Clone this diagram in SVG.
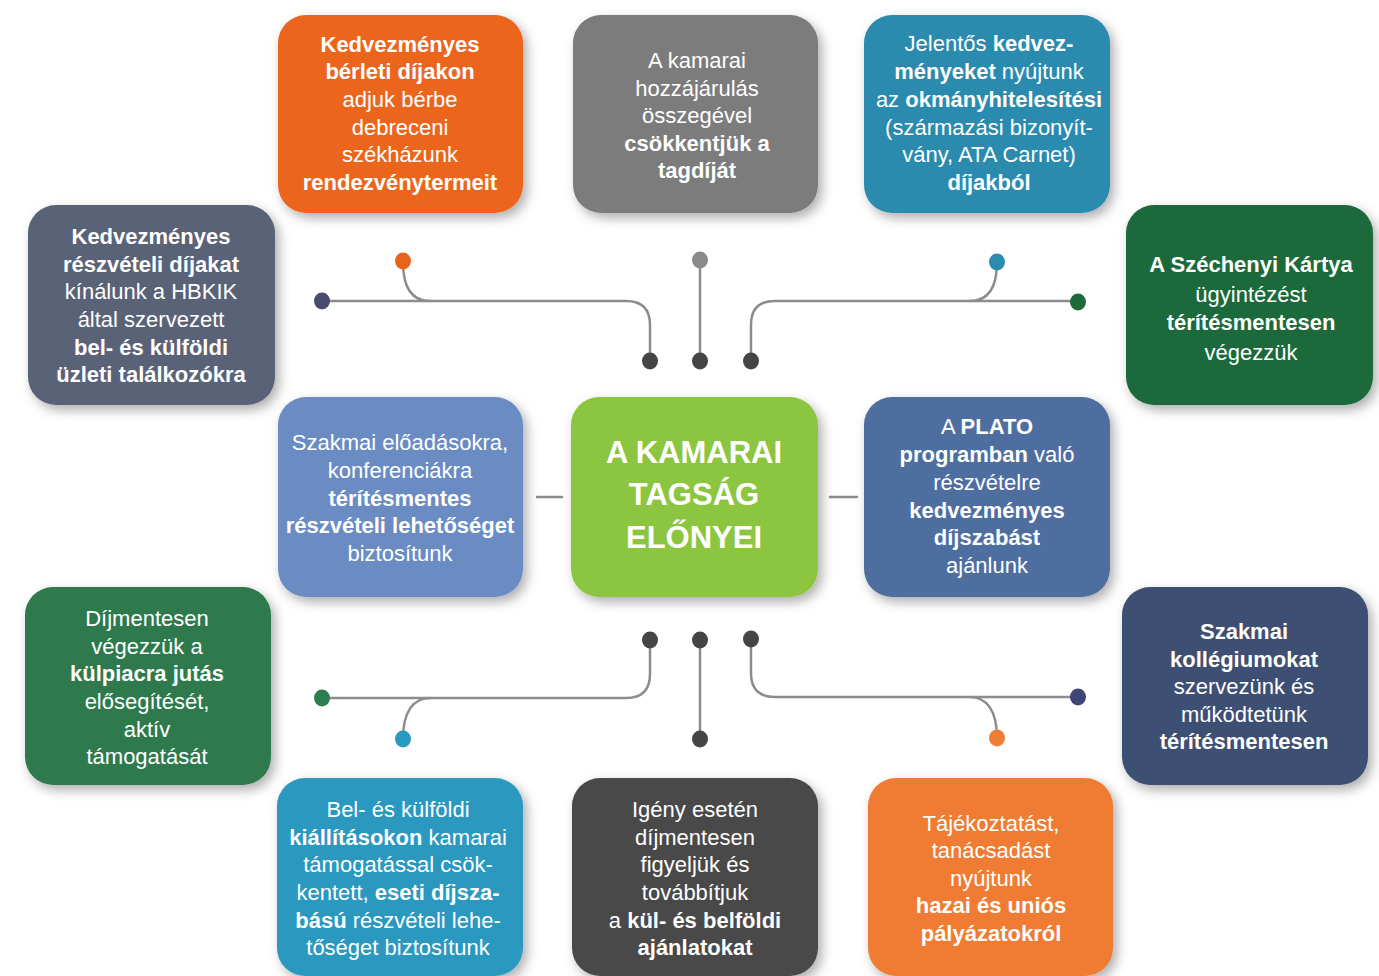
<svg xmlns="http://www.w3.org/2000/svg" width="1379" height="976" viewBox="0 0 1379 976">
<defs>
<filter id="sh" x="-20%" y="-20%" width="140%" height="140%">
<feDropShadow dx="4" dy="5" stdDeviation="6" flood-color="#000" flood-opacity="0.32"/>
</filter>
<style>
.box{filter:url(#sh)}
.t{font-family:"Liberation Sans",Arial,sans-serif;font-size:22px;fill:#fff;text-anchor:middle}
.b{font-weight:bold}
.c{font-family:"Liberation Sans",Arial,sans-serif;font-size:31px;font-weight:bold;fill:#fff;text-anchor:middle}
.ln{fill:none;stroke:#8c8c8c;stroke-width:2.5;stroke-linecap:round}
</style>
</defs>
<rect width="1379" height="976" fill="#fff"/>

<g id="connectors">
<path class="ln" d="M322,301 H626 Q650,301 650,325 V361"/>
<path class="ln" d="M403,262 C403,290 413,301 430,301"/>
<path class="ln" d="M700,260 V361"/>
<path class="ln" d="M751,361 V325 Q751,301 775,301 H1078"/>
<path class="ln" d="M997,262 C997,290 987,301 970,301"/>
<path class="ln" d="M650,640 V674 Q650,698 626,698 H322"/>
<path class="ln" d="M403,739 C403,712 413,698 430,698"/>
<path class="ln" d="M700,640 V739"/>
<path class="ln" d="M751,640 V673 Q751,697 775,697 H1078"/>
<path class="ln" d="M997,738 C997,711 987,697 970,697"/>
<path class="ln" d="M537,497 H562" stroke="#aaa"/>
<path class="ln" d="M830,497 H857" stroke="#aaa"/>
<ellipse cx="403" cy="261" rx="8" ry="8.5" fill="#E8641C"/>
<ellipse cx="322" cy="301" rx="8" ry="8.5" fill="#4A4B6E"/>
<ellipse cx="700" cy="260" rx="8" ry="8.5" fill="#8A8A8A"/>
<ellipse cx="997" cy="262" rx="8" ry="8.5" fill="#2A8DB0"/>
<ellipse cx="1078" cy="302" rx="8" ry="8.5" fill="#1E6B3A"/>
<ellipse cx="650" cy="361" rx="8" ry="8.5" fill="#454545"/>
<ellipse cx="700" cy="361" rx="8" ry="8.5" fill="#454545"/>
<ellipse cx="751" cy="361" rx="8" ry="8.5" fill="#454545"/>
<ellipse cx="650" cy="640" rx="8" ry="8.5" fill="#454545"/>
<ellipse cx="700" cy="640" rx="8" ry="8.5" fill="#454545"/>
<ellipse cx="751" cy="639" rx="8" ry="8.5" fill="#454545"/>
<ellipse cx="700" cy="739" rx="8" ry="8.5" fill="#454545"/>
<ellipse cx="322" cy="698" rx="8" ry="8.5" fill="#2E7D4F"/>
<ellipse cx="403" cy="739" rx="8" ry="8.5" fill="#2B9AC0"/>
<ellipse cx="1078" cy="697" rx="8" ry="8.5" fill="#3F4577"/>
<ellipse cx="997" cy="738" rx="8" ry="8.5" fill="#F07D35"/>
</g>

<g id="n-berleti">
<rect class="box" x="278" y="15" width="245" height="198" rx="28" fill="#EB661E"/>
<text class="t"><tspan class="b" x="400" y="52">Kedvezményes</tspan><tspan class="b" x="400" y="79">bérleti díjakon</tspan><tspan x="400" y="107">adjuk bérbe</tspan><tspan x="400" y="135">debreceni</tspan><tspan x="400" y="162">székházunk</tspan><tspan class="b" x="400" y="190">rendezvénytermeit</tspan></text>
</g>

<g id="n-tagdij">
<rect class="box" x="573" y="15" width="245" height="198" rx="28" fill="#7B7B7B"/>
<text class="t"><tspan x="697" y="68">A kamarai</tspan><tspan x="697" y="96">hozzájárulás</tspan><tspan x="697" y="123">összegével</tspan><tspan class="b" x="697" y="151">csökkentjük a</tspan><tspan class="b" x="697" y="178">tagdíját</tspan></text>
</g>

<g id="n-okmany">
<rect class="box" x="864" y="15" width="246" height="198" rx="28" fill="#2A8BAF"/>
<text class="t"><tspan x="989" y="51">Jelentős <tspan class="b">kedvez-</tspan></tspan><tspan x="989" y="79"><tspan class="b">ményeket</tspan> nyújtunk</tspan><tspan x="989" y="107">az <tspan class="b">okmányhitelesítési</tspan></tspan><tspan x="989" y="135">(származási bizonyít-</tspan><tspan x="989" y="162">vány, ATA Carnet)</tspan><tspan class="b" x="989" y="190">díjakból</tspan></text>
</g>

<g id="n-reszveteli">
<rect class="box" x="28" y="205" width="247" height="200" rx="28" fill="#5A6278"/>
<text class="t"><tspan class="b" x="151" y="244">Kedvezményes</tspan><tspan class="b" x="151" y="272">részvételi díjakat</tspan><tspan x="151" y="299">kínálunk a HBKIK</tspan><tspan x="151" y="327">által szervezett</tspan><tspan class="b" x="151" y="355">bel- és külföldi</tspan><tspan class="b" x="151" y="382">üzleti találkozókra</tspan></text>
</g>

<g id="n-szechenyi">
<rect class="box" x="1126" y="205" width="247" height="200" rx="28" fill="#1D6A3A"/>
<text class="t"><tspan class="b" x="1251" y="272">A Széchenyi Kártya</tspan><tspan x="1251" y="302">ügyintézést</tspan><tspan class="b" x="1251" y="330">térítésmentesen</tspan><tspan x="1251" y="360">végezzük</tspan></text>
</g>

<g id="n-eloadasok">
<rect class="box" x="278" y="397" width="245" height="200" rx="28" fill="#6A8CC3"/>
<text class="t"><tspan x="400" y="450">Szakmai előadásokra,</tspan><tspan x="400" y="478">konferenciákra</tspan><tspan class="b" x="400" y="506">térítésmentes</tspan><tspan class="b" x="400" y="533">részvételi lehetőséget</tspan><tspan x="400" y="561">biztosítunk</tspan></text>
</g>

<g id="n-center">
<rect class="box" x="571" y="397" width="247" height="200" rx="28" fill="#8CC63F"/>
<text class="c"><tspan x="694" y="463">A KAMARAI</tspan><tspan x="694" y="505">TAGSÁG</tspan><tspan x="694" y="548">ELŐNYEI</tspan></text>
</g>

<g id="n-plato">
<rect class="box" x="864" y="397" width="246" height="200" rx="28" fill="#4F6EA0"/>
<text class="t"><tspan x="987" y="434">A <tspan class="b">PLATO</tspan></tspan><tspan x="987" y="462"><tspan class="b">programban</tspan> való</tspan><tspan x="987" y="490">részvételre</tspan><tspan class="b" x="987" y="518">kedvezményes</tspan><tspan class="b" x="987" y="545">díjszabást</tspan><tspan x="987" y="573">ajánlunk</tspan></text>
</g>

<g id="n-kulpiac">
<rect class="box" x="25" y="587" width="246" height="198" rx="28" fill="#2D7A4D"/>
<text class="t"><tspan x="147" y="626">Díjmentesen</tspan><tspan x="147" y="654">végezzük a</tspan><tspan class="b" x="147" y="681">külpiacra jutás</tspan><tspan x="147" y="709">elősegítését,</tspan><tspan x="147" y="737">aktív</tspan><tspan x="147" y="764">támogatását</tspan></text>
</g>

<g id="n-kollegium">
<rect class="box" x="1122" y="587" width="246" height="198" rx="28" fill="#3E4F72"/>
<text class="t"><tspan class="b" x="1244" y="639">Szakmai</tspan><tspan class="b" x="1244" y="667">kollégiumokat</tspan><tspan x="1244" y="694">szervezünk és</tspan><tspan x="1244" y="722">működtetünk</tspan><tspan class="b" x="1244" y="749">térítésmentesen</tspan></text>
</g>

<g id="n-kiallitas">
<rect class="box" x="277" y="778" width="246" height="198" rx="28" fill="#2B98BF"/>
<text class="t"><tspan x="398" y="817">Bel- és külföldi</tspan><tspan x="398" y="845"><tspan class="b">kiállításokon</tspan> kamarai</tspan><tspan x="398" y="872">támogatással csök-</tspan><tspan x="398" y="900">kentett, <tspan class="b">eseti díjsza-</tspan></tspan><tspan x="398" y="928"><tspan class="b">bású</tspan> részvételi lehe-</tspan><tspan x="398" y="955">tőséget biztosítunk</tspan></text>
</g>

<g id="n-ajanlatok">
<rect class="box" x="572" y="778" width="246" height="198" rx="28" fill="#4A4A4A"/>
<text class="t"><tspan x="695" y="817">Igény esetén</tspan><tspan x="695" y="845">díjmentesen</tspan><tspan x="695" y="872">figyeljük és</tspan><tspan x="695" y="900">továbbítjuk</tspan><tspan x="695" y="928">a <tspan class="b">kül- és belföldi</tspan></tspan><tspan class="b" x="695" y="955">ajánlatokat</tspan></text>
</g>

<g id="n-palyazat">
<rect class="box" x="868" y="778" width="245" height="198" rx="28" fill="#EF7B33"/>
<text class="t"><tspan x="991" y="831">Tájékoztatást,</tspan><tspan x="991" y="858">tanácsadást</tspan><tspan x="991" y="886">nyújtunk</tspan><tspan class="b" x="991" y="913">hazai és uniós</tspan><tspan class="b" x="991" y="941">pályázatokról</tspan></text>
</g>
</svg>
